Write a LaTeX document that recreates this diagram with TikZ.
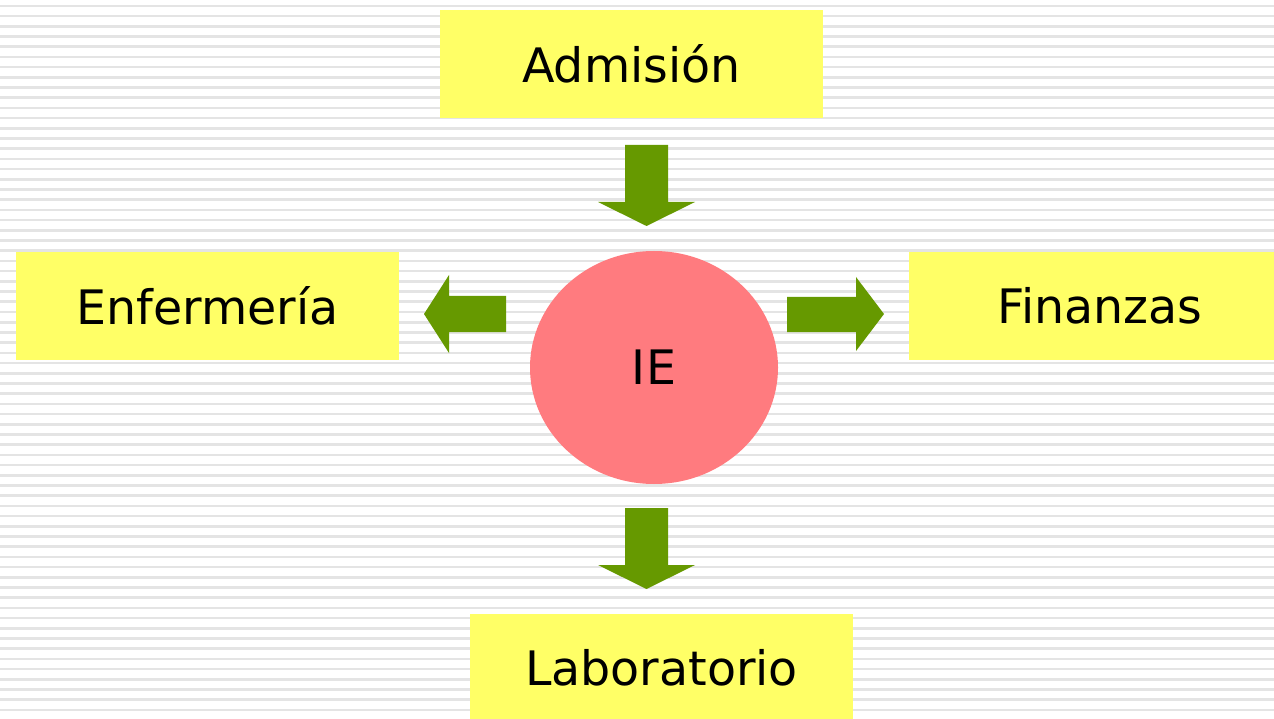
\documentclass[tikz,border=0pt]{standalone}
\usepackage{fontspec}
\setmainfont{DejaVu Sans}
\usetikzlibrary{shapes.geometric}
\definecolor{boxyellow}{RGB}{255,255,102}
\definecolor{ellred}{RGB}{255,123,127}
\definecolor{arrgreen}{RGB}{102,153,0}
\definecolor{stripe}{RGB}{228,228,228}
\begin{document}
\begin{tikzpicture}[x=1pt,y=-1pt,
  lbl/.style={fill=boxyellow,draw=none,minimum width=383pt,minimum height=108pt,inner sep=0pt,font=\fontsize{47.5}{52}\selectfont},
  blockarrow/.style={fill=arrgreen,draw=none}]
\useasboundingbox (0,0) rectangle (1274,719);
\clip (0,0) rectangle (1274,719);
\fill[white] (0,0) rectangle (1274,719);
\foreach \i in {0,...,70} {
  \draw[stripe,line width=2.6pt] (0,{6+10.2*\i}) -- (1274,{6+10.2*\i});
}
\node[lbl] (adm) at (631.5,64) {Admisión};
\node[lbl] (enf) at (207.5,306) {Enfermería};
\node[lbl] (fin) at (1100,306) {Finanzas};
\node[lbl] (lab) at (661.5,668) {Laboratorio};
\node[ellipse,fill=ellred,draw=none,minimum width=248pt,minimum height=233pt,inner sep=0pt,font=\fontsize{47.5}{52}\selectfont] (ie) at (654,367.5) {IE};
% top arrow
\fill[blockarrow] (625,145) -- (668,145) -- (668,202) -- (695,202) -- (646.5,226) -- (598,202) -- (625,202) -- cycle;
% bottom arrow
\fill[blockarrow] (625,508) -- (668,508) -- (668,565) -- (695,565) -- (646.5,589) -- (598,565) -- (625,565) -- cycle;
% left arrow
\fill[blockarrow] (506,296) -- (506,332) -- (449,332) -- (449,353) -- (424,314) -- (449,275) -- (449,296) -- cycle;
% right arrow
\fill[blockarrow] (787,297) -- (787,332) -- (856,332) -- (856,351) -- (884,314) -- (856,277) -- (856,297) -- cycle;
\end{tikzpicture}
\end{document}
